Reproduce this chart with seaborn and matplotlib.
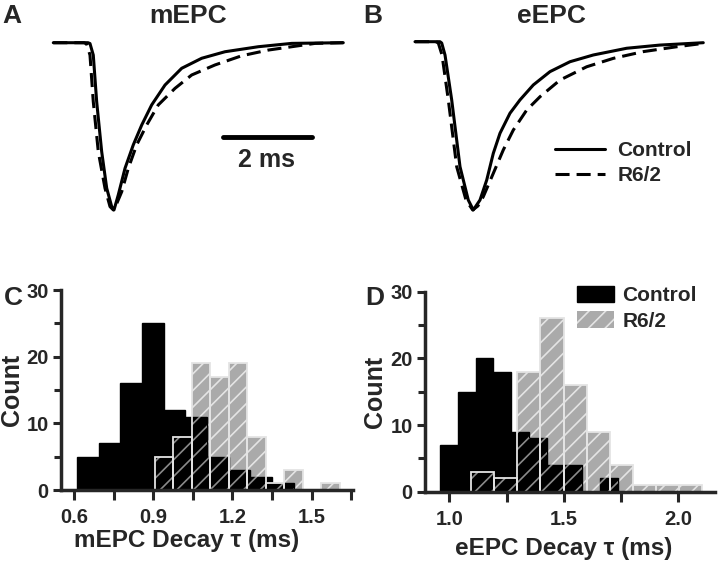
import numpy as np
import matplotlib
matplotlib.use('Agg')
from matplotlib import pyplot as plt
from matplotlib.patches import Patch
import seaborn as sb

sb.set_style('ticks')
plt.rcParams['font.family'] = ['Liberation Sans', 'DejaVu Sans']
plt.rcParams['font.weight'] = 'bold'
plt.rcParams['hatch.linewidth'] = 1.2

# averaged traces, time in ms, amplitude normalised to the peak
m_ctrl_t = [0, 0.79, 0.834, 0.909, 0.986, 1.10, 1.214, 1.327, 1.38, 1.477, 1.63, 1.818, 2.01,
            2.236, 2.539, 2.918, 3.373, 3.902, 4.659, 5.418, 6.59]
m_ctrl_a = [0, 0, -0.005, -0.074, -0.353, -0.652, -0.870, -0.980, -1.0, -0.910, -0.751, -0.611, -0.492,
            -0.372, -0.253, -0.153, -0.093, -0.054, -0.024, -0.004, 0]
m_r62_t = [0, 0.70, 0.76, 0.834, 0.909, 1.023, 1.175, 1.289, 1.364, 1.448, 1.555, 1.705, 1.895, 2.123,
           2.386, 2.766, 3.145, 3.675, 4.282, 4.886, 5.418, 5.95, 6.59]
m_r62_a = [0, 0, -0.008, -0.074, -0.353, -0.652, -0.870, -0.980, -1.0, -0.958, -0.891, -0.751, -0.611, -0.492,
           -0.372, -0.273, -0.193, -0.133, -0.078, -0.044, -0.024, -0.004, 0]

e_ctrl_t = [0, 0.568, 0.607, 0.682, 0.834, 1.023, 1.211, 1.325, 1.477, 1.63, 1.78, 1.932, 2.159,
            2.386, 2.689, 3.068, 3.523, 4.052, 4.811, 5.568, 6.552]
e_ctrl_a = [0, 0, -0.008, -0.079, -0.346, -0.743, -0.941, -1.0, -0.941, -0.822, -0.663, -0.544, -0.425,
            -0.346, -0.257, -0.178, -0.119, -0.079, -0.039, -0.020, -0.006]
e_r62_t = [0, 0.477, 0.53, 0.614, 0.757, 0.948, 1.159, 1.311, 1.43, 1.552, 1.78, 2.007, 2.234, 2.539,
           2.841, 3.295, 3.902, 4.507, 5.189, 5.948, 6.552]
e_r62_a = [0, 0, -0.008, -0.079, -0.346, -0.743, -0.941, -1.0, -0.976, -0.921, -0.782, -0.643, -0.525, -0.406,
           -0.327, -0.228, -0.149, -0.099, -0.059, -0.030, -0.010]

# decay time constant histograms (bin edges in ms, counts)
m_ctrl_edges = [0.612, 0.694, 0.776, 0.858, 0.940, 1.022, 1.104, 1.186, 1.268, 1.350, 1.432]
m_ctrl_counts = [5, 7, 16, 25, 12, 11, 5, 3, 2, 1]
m_r62_edges = [0.907, 0.977, 1.047, 1.117, 1.187, 1.257, 1.327, 1.397, 1.467, 1.537, 1.607]
m_r62_counts = [5, 8, 19, 17, 19, 8, 1, 3, 0, 1]

e_ctrl_edges = [0.960, 1.0375, 1.115, 1.1925, 1.270, 1.3475, 1.425, 1.5025, 1.580, 1.6575, 1.735]
e_ctrl_counts = [7, 15, 20, 18, 9, 8, 4, 4, 0, 2]
e_r62_edges = [1.095, 1.196, 1.297, 1.398, 1.499, 1.600, 1.701, 1.802, 1.903, 2.004, 2.105]
e_r62_counts = [3, 2, 18, 26, 16, 9, 4, 1, 1, 1]

GRAY = '#aaaaaa'
LIGHT = '#e4e4e4'
DARKHATCH = '#8a8a8a'

W, H = 720, 569


def px_axes(fig, x0, y0, x1, y1):
    # axes placed by pixel box (top-left origin)
    return fig.add_axes([x0 / W, 1 - y1 / H, (x1 - x0) / W, (y1 - y0) / H])


def draw_traces(ax, ct, ca, rt, ra, xlim, ylim):
    sb.lineplot(x=ct, y=ca, ax=ax, color='black', lw=2.2, sort=False, estimator=None, label='Control')
    sb.lineplot(x=rt, y=ra, ax=ax, color='black', lw=2.2, sort=False, estimator=None, label='R6/2')
    ax.lines[0].set_solid_joinstyle('round')
    ax.lines[1].set_dashes((4.6, 2.3))
    ax.set_xlim(xlim)
    ax.set_ylim(ylim)
    ax.set_axis_off()
    ax.get_legend().remove()


def mids(edges):
    return [(a + b) / 2 for a, b in zip(edges[:-1], edges[1:])]


def draw_hist(ax, ce, cc, re, rc):
    # R6/2 grey hatched
    sb.histplot(x=mids(re), weights=rc, bins=list(re), ax=ax, color=GRAY,
                edgecolor=LIGHT, linewidth=0, alpha=1, hatch='//', zorder=1)
    # control black
    sb.histplot(x=mids(ce), weights=cc, bins=list(ce), ax=ax, color='black',
                edgecolor='black', linewidth=1, alpha=1, zorder=2)
    # where they overlap: black with grey hatch
    for i in range(len(rc)):
        for j in range(len(cc)):
            lo = max(re[i], ce[j])
            hi = min(re[i + 1], ce[j + 1])
            h = min(rc[i], cc[j])
            if hi > lo and h > 0:
                ax.bar(lo, h, width=hi - lo, align='edge', color='black', edgecolor=DARKHATCH,
                       linewidth=0, hatch='//', zorder=3)
    # R6/2 outlines on top
    sb.histplot(x=mids(re), weights=rc, bins=list(re), ax=ax, fill=False,
                color=LIGHT, linewidth=1.3, zorder=4)
    sb.despine(ax=ax)
    for s in ['left', 'bottom']:
        ax.spines[s].set_linewidth(2.5)
        ax.spines[s].set_zorder(5)
    ax.set_ylim(0, 30)
    ax.set_yticks([0, 10, 20, 30])
    ax.set_yticks([5, 15, 25], minor=True)
    ax.tick_params(which='both', direction='out', width=2.2, labelsize=14.5)
    ax.tick_params(axis='y', which='major', length=6, pad=3)
    ax.tick_params(axis='y', which='minor', length=5)
    ax.tick_params(axis='x', which='both', length=7, pad=6)
    ax.set_ylabel('Count', fontsize=18, fontweight='bold')


fig = plt.figure(figsize=(7.2, 5.69), dpi=100)

# A: mEPC traces
axA = px_axes(fig, 40, 30, 350, 230)
draw_traces(axA, m_ctrl_t, m_ctrl_a, m_r62_t, m_r62_a, (-0.302, 6.743), (-1.12, 0.076))
axA.plot([3.86, 5.87], [-0.562, -0.562], color='black', lw=3.5, solid_capstyle='round')
axA.text(4.85, -0.70, '2 ms', ha='center', va='center', fontsize=18, fontweight='bold')

# B: eEPC traces
axB = px_axes(fig, 400, 30, 710, 230)
draw_traces(axB, e_ctrl_t, e_ctrl_a, e_r62_t, e_r62_a, (-0.341, 6.705), (-1.119, 0.0695))
axB.legend(handles=axB.lines[:2], labels=['Control', 'R6/2'], frameon=False, loc='upper left',
           bbox_to_anchor=(0.50, 0.445), fontsize=15, handlelength=2.4, handletextpad=0.6,
           labelspacing=0.3, borderpad=0, borderaxespad=0)

# C: mEPC decay histogram
axC = px_axes(fig, 61, 290, 353, 490)
draw_hist(axC, m_ctrl_edges, m_ctrl_counts, m_r62_edges, m_r62_counts)
axC.set_xlim(0.551, 1.657)
axC.set_xticks([0.6, 0.9, 1.2, 1.5])
axC.set_xticks([0.75, 1.05, 1.35, 1.65], minor=True)
axC.set_xticklabels(['0.6', '0.9', '1.2', '1.5'])
axC.set_xlabel('mEPC Decay \u03c4 (ms)', fontsize=17.5, fontweight='bold')
axC.xaxis.set_label_coords(0.43, -0.195)
axC.yaxis.set_label_coords(-0.125, 0.5)

# D: eEPC decay histogram
axD = px_axes(fig, 425, 291.7, 715, 491.7)
draw_hist(axD, e_ctrl_edges, e_ctrl_counts, e_r62_edges, e_r62_counts)
axD.set_xlim(0.894, 2.160)
axD.set_xticks([1.0, 1.5, 2.0])
axD.set_xticks([1.25, 1.75], minor=True)
axD.set_xticklabels(['1.0', '1.5', '2.0'])
axD.set_xlabel('eEPC Decay \u03c4 (ms)', fontsize=17.5, fontweight='bold')
axD.xaxis.set_label_coords(0.477, -0.225)
axD.yaxis.set_label_coords(-0.13, 0.5)
handles = [Patch(facecolor='black', edgecolor='black'),
           Patch(facecolor=GRAY, edgecolor=LIGHT, hatch='//', linewidth=0)]
axD.legend(handles=handles, labels=['Control', 'R6/2'], frameon=False, loc='upper left',
           bbox_to_anchor=(0.525, 1.03), fontsize=15, handlelength=1.75, handleheight=0.85,
           handletextpad=0.42, labelspacing=0.3, borderpad=0, borderaxespad=0)

# titles and panel letters
fig.text(188 / W, 1 - 16 / H, 'mEPC', ha='center', va='center', fontsize=19, fontweight='bold')
fig.text(551 / W, 1 - 16 / H, 'eEPC', ha='center', va='center', fontsize=19, fontweight='bold')
for lab, x, y in [('A', 11.7, 16), ('B', 372.5, 16), ('C', 13, 298), ('D', 374.5, 298)]:
    fig.text(x / W, 1 - y / H, lab, ha='center', va='center', fontsize=19, fontweight='bold')

fig.savefig('out.png', dpi=100)
